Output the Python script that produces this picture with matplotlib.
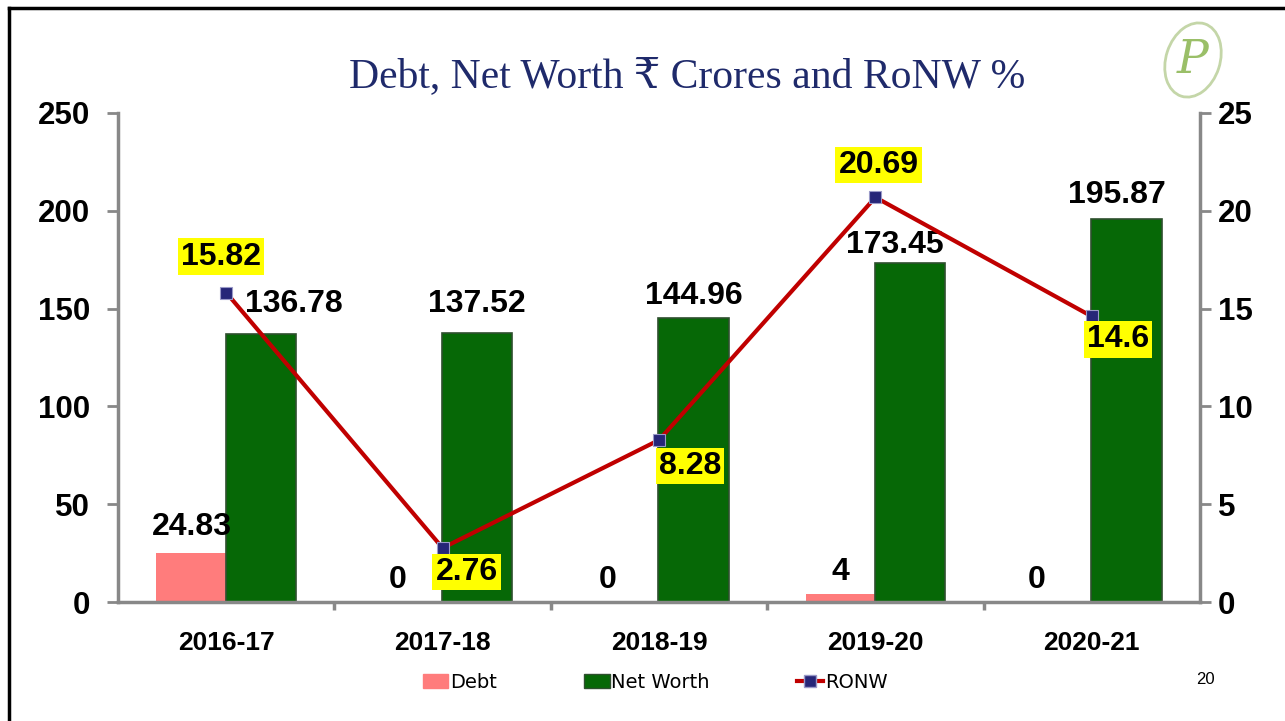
import numpy as np
import matplotlib.pyplot as plt
import matplotlib.patches as mpatches
from matplotlib.lines import Line2D
from matplotlib.ticker import FixedLocator

# --- data ---
years      = ["2016-17", "2017-18", "2018-19", "2019-20", "2020-21"]
debt       = [24.83, 0, 0, 4, 0]
net_worth  = [136.78, 137.52, 144.96, 173.45, 195.87]
ronw       = [15.82, 2.76, 8.28, 20.69, 14.6]

# --- label offsets (pixels from anchor) ---
debt_off = [(0, 26), (-10, 22), (-17, 22), (0, 22), (-20, 22)]
nw_off   = [(33, 30), (0, 29), (0, 22), (-15, 18), (-10, 24)]
ronw_off = [(-5, 36), (24, -24), (31, -26), (3, 32), (26, -23)]

COLORS = {
    'debt':     "#FF7C7C",
    'nw':       "#066806",
    'nwEdge':   "#2E4F2E",
    'line':     "#C00000",
    'marker':   "#262678",
    'spine':    "#888888",
    'title':    "#1F2A6B",
    'box':      "#FFFF00",
}

plt.rcParams['font.family'] = ['Liberation Sans', 'DejaVu Sans']

fig = plt.figure(figsize=(12.85, 7.21), dpi=100)
fig.patch.set_facecolor("white")
ax = fig.add_axes([118 / 1285, 1 - 602 / 721, 1082 / 1285, 489 / 721])
ax2 = ax.twinx()

x = np.arange(len(years))
W = 0.325
ax.bar(x - 0.16, debt, W, color=COLORS['debt'], zorder=2)
ax.bar(x + 0.16, net_worth, W, color=COLORS['nw'],
       edgecolor=COLORS['nwEdge'], lw=1.2, zorder=2)

ax2.plot(x, ronw, color=COLORS['line'], lw=3, marker='s', ms=8,
         mfc=COLORS['marker'], mec="#9a9ac8", mew=0.8, zorder=5)

lbl = dict(fontsize=23, fontweight='bold', ha='center', va='center',
           textcoords='offset pixels', color='black')
for i in range(len(years)):
    ax.annotate(f"{debt[i]:g}", (x[i] - 0.16, debt[i]), xytext=debt_off[i], **lbl)
    ax.annotate(f"{net_worth[i]:g}", (x[i] + 0.16, net_worth[i]), xytext=nw_off[i], **lbl)
    ax2.annotate(f"{ronw[i]:g}", (x[i], ronw[i]), xytext=ronw_off[i], zorder=6,
                 bbox=dict(boxstyle='square,pad=0.1', fc=COLORS['box'], ec='none'), **lbl)

# --- axes styling ---
ax.set_xlim(-0.5, len(years) - 0.5)
ax.set_ylim(0, 250)
ax2.set_ylim(0, 25)
ax.set_yticks(range(0, 251, 50))
ax2.set_yticks(range(0, 26, 5))
ax.set_xticks(x)
ax.set_xticklabels(years)
ax.xaxis.set_minor_locator(FixedLocator(x[:-1] + 0.5))

for a in (ax, ax2):
    a.spines['top'].set_visible(False)
    for s in a.spines.values():
        s.set_color(COLORS['spine'])
        s.set_linewidth(2.5)
ax.spines['right'].set_visible(False)
ax2.spines['left'].set_visible(False)
ax2.spines['bottom'].set_visible(False)

ax.tick_params(axis='y', length=8, width=2, color=COLORS['spine'], pad=12,
               labelsize=22.5)
ax2.tick_params(axis='y', length=8, width=2, color=COLORS['spine'], pad=5,
                labelsize=22.5)
ax.tick_params(axis='x', which='major', length=0, pad=21, labelsize=19)
ax.tick_params(axis='x', which='minor', length=6, width=2.5, color=COLORS['spine'])
for t in ax.get_yticklabels() + ax2.get_yticklabels() + ax.get_xticklabels():
    t.set_fontweight('bold')

# --- title ---
fig.text(687 / 1285, 1 - 77 / 721, "Debt, Net Worth \u20b9 Crores and RoNW %",
         ha='center', va='center', fontsize=30, color=COLORS['title'],
         family=['Liberation Serif', 'DejaVu Serif', 'DejaVu Sans'])

# --- legend ---
handles = [
    mpatches.Patch(color=COLORS['debt'], label="Debt"),
    mpatches.Patch(fc=COLORS['nw'], ec=COLORS['nwEdge'], label="Net Worth"),
    Line2D([], [], color=COLORS['line'], lw=3, marker='s', ms=8,
           mfc=COLORS['marker'], mec="#9a9ac8", label="RONW"),
]
fig.legend(handles=handles, loc='center', bbox_to_anchor=(655 / 1285, 1 - 682 / 721),
           ncol=3, frameon=False, handlelength=1.3, handletextpad=0.1,
           columnspacing=4.5, prop={'family': 'DejaVu Sans', 'size': 14})

# --- page number ---
fig.text(1205 / 1285, 1 - 680 / 721, "20", ha='center', va='center', fontsize=12)

# --- slide border ---
fig.add_artist(Line2D([9 / 1285, 9 / 1285], [0, 1 - 8 / 721], color='black', lw=2.5,
                      transform=fig.transFigure))
fig.add_artist(Line2D([9 / 1285, 1], [1 - 8 / 721, 1 - 8 / 721], color='black', lw=2.5,
                      transform=fig.transFigure))

# --- logo ---
lg = fig.add_axes([1150 / 1285, 1 - 105 / 721, 85 / 1285, 85 / 721])
lg.set_xlim(0, 85)
lg.set_ylim(0, 85)
lg.axis('off')
lg.add_patch(mpatches.Ellipse((43, 45), 54, 76, angle=-18, fill=False,
                              ec="#C4D6A8", lw=2))
lg.text(43, 45, "P", ha='center', va='center', fontsize=34, style='italic',
        color="#9ABF68", family='DejaVu Serif', fontweight='light')

fig.savefig("out.png", dpi=100)
